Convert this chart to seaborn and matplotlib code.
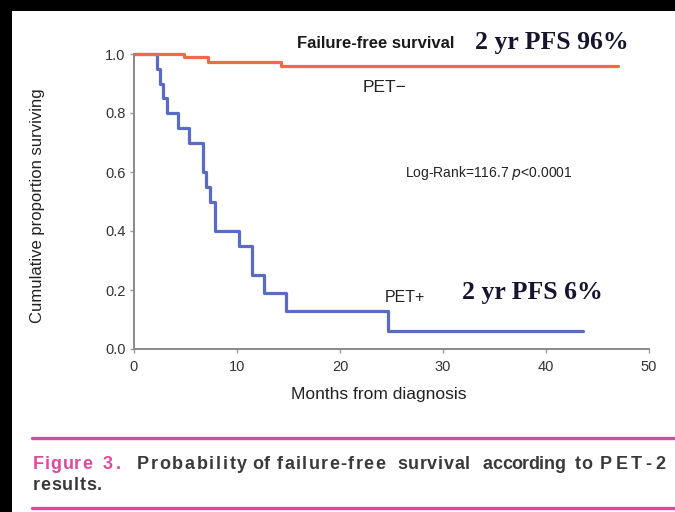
import matplotlib
matplotlib.use("Agg")
import matplotlib.pyplot as plt
from matplotlib import font_manager
from matplotlib.font_manager import FontProperties
from matplotlib.lines import Line2D
from matplotlib.patches import Rectangle
import pandas as pd
import seaborn as sns

# Kaplan-Meier step data (months, proportion event-free)
pet_neg_months = [0.0, 4.9, 7.2, 14.3, 47.0]
pet_neg_surv = [1.0, 0.99, 0.972, 0.96, 0.96]

pet_pos_months = [0.0, 2.2, 2.5, 2.8, 3.2, 4.3, 5.3, 6.7, 7.0, 7.4, 7.9,
                  10.2, 11.5, 12.6, 14.8, 24.7, 43.6]
pet_pos_surv = [1.0, 0.95, 0.90, 0.85, 0.80, 0.75, 0.70, 0.60, 0.55, 0.50, 0.40,
                0.35, 0.25, 0.19, 0.13, 0.06, 0.06]

x_ticks = [0, 10, 20, 30, 40, 50]
y_ticks = [0.0, 0.2, 0.4, 0.6, 0.8, 1.0]

# justified caption: words with their left and right edges (px)
caption_words = ["Figure", "3.", "Probability", "of", "failure-free", "survival",
                 "according", "to", "PET-2"]
caption_word_x0 = [33, 103, 137, 252, 277, 397, 483, 575, 600]
caption_word_x1 = [92, 121, 247, 270, 385, 470, 565, 592, 665]

W, H = 675, 512
sns.set_style("ticks")

installed = {f.name for f in font_manager.fontManager.ttflist}
NARROW = "Liberation Sans Narrow" if "Liberation Sans Narrow" in installed else "Liberation Sans"
SANS = [NARROW, "DejaVu Sans"]
SERIF = ["Liberation Serif", "DejaVu Serif"]
plt.rcParams["font.family"] = SANS


def fx(px):
    return px / W


def fy(py):
    return 1 - py / H


fig = plt.figure(figsize=(W / 100, H / 100), dpi=100, facecolor="black")
fig.patches.append(Rectangle((fx(12), 0), 1, fy(11), transform=fig.transFigure,
                             facecolor="white", edgecolor="none", zorder=-10))

left, right, top, bottom = 134, 649, 54, 349
ax = fig.add_axes([fx(left), fy(bottom), (right - left) / W, (bottom - top) / H])
ax.patch.set_visible(False)

df = pd.concat([
    pd.DataFrame({"month": pet_pos_months, "surv": pet_pos_surv, "group": "PET+"}),
    pd.DataFrame({"month": pet_neg_months, "surv": pet_neg_surv, "group": "PET-"}),
], ignore_index=True)

sns.lineplot(data=df, x="month", y="surv", hue="group", hue_order=["PET+", "PET-"],
             palette={"PET+": "#5a6bc4", "PET-": "#f2694a"}, estimator=None,
             sort=False, drawstyle="steps-post", linewidth=2.3, legend=False,
             ax=ax, clip_on=False)

ax.set_xlim(0, 50)
ax.set_ylim(0, 1.0)
ax.set_xticks(x_ticks)
ax.set_yticks(y_ticks)
ax.set_xticklabels([str(t) for t in x_ticks])
ax.set_yticklabels([f"{t:.1f}" for t in y_ticks])
ax.set_xlabel("")
ax.set_ylabel("")
sns.despine(ax=ax)
for side in ("left", "bottom"):
    ax.spines[side].set_color("#8a8a8a")
    ax.spines[side].set_linewidth(1.4)
ax.tick_params(axis="both", direction="out", length=3, width=1, color="#9a9a9a",
               labelcolor="#333333", labelsize=10.5)
ax.tick_params(axis="x", pad=5)
ax.tick_params(axis="y", pad=3)

# Axis titles
fig.text(fx(38), fy(206), "Cumulative proportion surviving", rotation=90,
         ha="center", va="center", fontsize=12, color="#222222")
fig.text(fx(379), fy(394), "Months from diagnosis", ha="center", va="center",
         fontsize=12.5, color="#222222")

# Annotations on the chart
fig.text(fx(297), fy(43), "Failure-free survival", ha="left", va="center",
         fontsize=12, fontweight="bold", color="#1a1a1a")
fig.text(fx(475), fy(43), "2 yr PFS 96%", ha="left", va="center",
         fontsize=18.5, fontweight="bold", color="#15152e", family=SERIF)
fig.text(fx(363), fy(87), "PET\u2212", ha="left", va="center",
         fontsize=12.5, color="#222222")
fig.text(fx(405), fy(173), "Log-Rank=116.7 $p$<0.0001", ha="left", va="center",
         fontsize=10, color="#222222")
fig.text(fx(385), fy(297), "PET+", ha="left", va="center",
         fontsize=11.5, color="#222222")
fig.text(fx(462), fy(293), "2 yr PFS 6%", ha="left", va="center",
         fontsize=18.5, fontweight="bold", color="#15152e", family=SERIF)

# Caption block with rules
pink = "#e0489c"
for py in (438, 508):
    fig.add_artist(Line2D([fx(32), 1.0], [fy(py), fy(py)], color=pink,
                          linewidth=2.4, transform=fig.transFigure))

cap_prop = FontProperties(family=["Liberation Sans", "DejaVu Sans"], weight="bold", size=13)
renderer = fig.canvas.get_renderer()


def glyph_width(ch):
    w, _, _ = renderer.get_text_width_height_descent(ch, cap_prop, ismath=False)
    return w


def spread_word(x0, x1, y_px, word, color):
    # letter-spaced word filling [x0, x1], one glyph at a time
    widths = [glyph_width(ch) for ch in word]
    gap = (x1 - x0 - sum(widths)) / max(len(word) - 1, 1)
    x = x0
    for ch, w in zip(word, widths):
        fig.text(fx(x), fy(y_px), ch, ha="left", va="baseline",
                 fontproperties=cap_prop, color=color)
        x += w + gap


for i, (word, a, b) in enumerate(zip(caption_words, caption_word_x0, caption_word_x1)):
    spread_word(a, b, 469, word, pink if i < 2 else "#3a3a3a")
spread_word(33, 102, 490, "results.", "#3a3a3a")

fig.savefig("out.png", dpi=100, facecolor="black")
